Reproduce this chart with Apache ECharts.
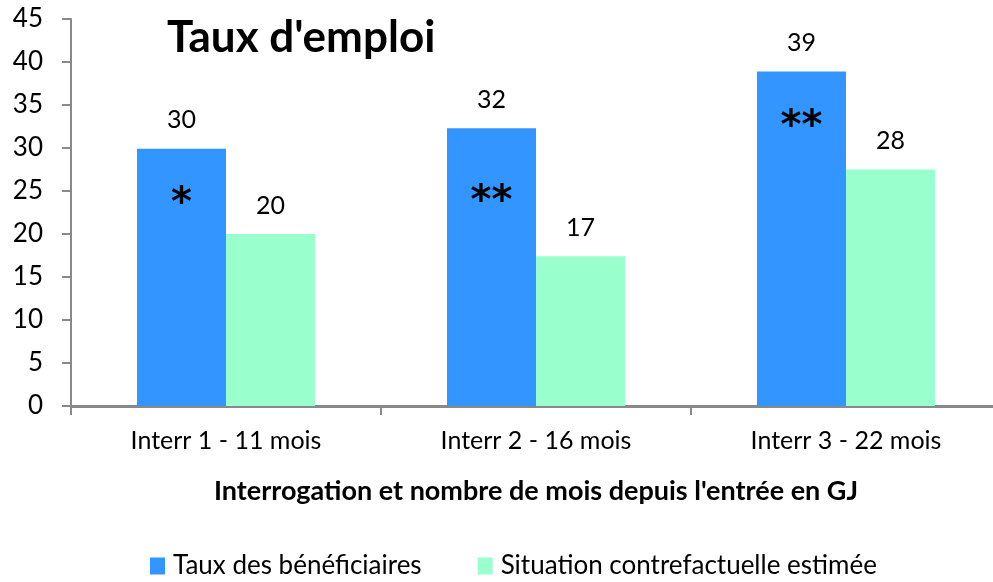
<!DOCTYPE html>
<html>
<head>
<meta charset="utf-8">
<script src="https://cdn.jsdelivr.net/npm/echarts@6/dist/echarts.min.js"></script>
<style>
  html, body { margin: 0; padding: 0; background: #fff; overflow: hidden; }
  #chart { width: 1001px; height: 582px; }
</style>
</head>
<body>
<div id="chart"></div>
<script>
// categories and values
const categories = ["Interr 1 - 11 mois", "Interr 2 - 16 mois", "Interr 3 - 22 mois"];
const beneficiaires = [29.9, 32.3, 38.9];
const contrefactuel = [20, 17.4, 27.5];
// significance stars shown inside the blue bars, and the level they sit at
const stars = ["*", "**", "**"];
const starLevels = [23.4, 23.7, 32.4];

const FONT = "Lato";
const chart = echarts.init(document.getElementById("chart"));

chart.setOption({
  animation: false,
  textStyle: { fontFamily: FONT },
  title: {
    text: "Taux d'emploi",
    left: 162,
    top: 11,
    textStyle: { fontFamily: FONT, fontSize: 44, fontWeight: "bold", color: "#000" },
  },
  legend: {
    left: 145,
    bottom: -2,
    itemWidth: 15,
    itemHeight: 17,
    itemGap: 56,
    icon: "rect",
    textStyle: { fontFamily: FONT, fontSize: 26, color: "#000", padding: [0, 0, 0, 3] },
    data: ["Taux des bénéficiaires", "Situation contrefactuelle estimée"],
  },
  grid: { left: 71, right: 0, top: 19, bottom: 176 },
  xAxis: {
    type: "category",
    data: categories,
    name: "Interrogation et nombre de mois depuis l'entrée en GJ",
    nameLocation: "middle",
    nameGap: 72,
    nameTextStyle: { fontFamily: FONT, fontSize: 27, fontWeight: "bold", color: "#000" },
    axisLine: { lineStyle: { color: "#898989", width: 3 } },
    axisTick: { show: true, length: 9, lineStyle: { color: "#898989", width: 2 } },
    axisLabel: { fontFamily: FONT, fontSize: 25, color: "#000", margin: 22 },
  },
  yAxis: {
    type: "value",
    min: 0,
    max: 45,
    interval: 5,
    splitLine: { show: false },
    axisLine: { show: true, lineStyle: { color: "#898989", width: 2 } },
    axisTick: { show: true, length: 9, lineStyle: { color: "#898989", width: 2 } },
    axisLabel: { fontFamily: FONT, fontSize: 26, color: "#000", margin: 28 },
  },
  series: [
    {
      name: "Taux des bénéficiaires",
      type: "bar",
      barWidth: 89,
      barGap: "0%",
      itemStyle: { color: "#3395ff" },
      label: {
        show: true,
        position: "top",
        distance: 16,
        fontFamily: FONT,
        fontSize: 25,
        color: "#000",
        formatter: (p) => Math.round(p.value),
      },
      data: beneficiaires,
      markPoint: {
        symbol: "rect",
        symbolSize: 1,
        itemStyle: { color: "rgba(0,0,0,0)" },
        label: {
          show: true,
          position: "inside",
          fontFamily: "DejaVu Sans",
          fontSize: 40,
          fontWeight: "bold",
          color: "#000",
          formatter: (p) => p.name,
        },
        data: categories.map((c, i) => ({ name: stars[i], coord: [c, starLevels[i]] })),
      },
    },
    {
      name: "Situation contrefactuelle estimée",
      type: "bar",
      barWidth: 89,
      barGap: "0%",
      itemStyle: { color: "#99ffcc" },
      label: {
        show: true,
        position: "top",
        distance: 16,
        fontFamily: FONT,
        fontSize: 25,
        color: "#000",
        formatter: (p) => Math.round(p.value),
      },
      data: contrefactuel,
    },
  ],
});
</script>
</body>
</html>
